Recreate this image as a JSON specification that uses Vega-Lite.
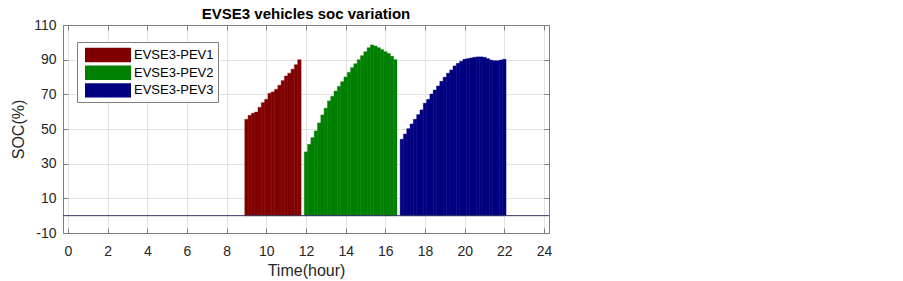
{
  "$schema": "https://vega.github.io/schema/vega-lite/v6.json",
  "width": 486,
  "height": 208,
  "autosize": {"type": "none"},
  "padding": {"left": 63, "top": 25, "right": 354, "bottom": 48},
  "background": "white",
  "title": {"text": "EVSE3 vehicles soc variation", "font": "Liberation Sans", "fontSize": 15, "fontWeight": "bold", "color": "#000000", "offset": 4, "dy": 8},
  "config": {
    "view": {"stroke": "#7f7f7f", "strokeWidth": 1},
    "font": "Liberation Sans",
    "axis": {
      "domainColor": "#7f7f7f",
      "tickColor": "#7f7f7f",
      "gridColor": "#e3e3e3",
      "labelFont": "Liberation Sans",
      "labelFontSize": 14,
      "labelColor": "#262626",
      "titleFont": "Liberation Sans",
      "titleFontSize": 16,
      "titleFontWeight": "normal",
      "titleColor": "#262626",
      "tickSize": -5
    }
  },
  "datasets": {
    "soc": [
      {"t": 9, "soc": 55.6, "vehicle": "EVSE3-PEV1"},
      {"t": 9.167, "soc": 57.9, "vehicle": "EVSE3-PEV1"},
      {"t": 9.333, "soc": 59.1, "vehicle": "EVSE3-PEV1"},
      {"t": 9.5, "soc": 59.8, "vehicle": "EVSE3-PEV1"},
      {"t": 9.667, "soc": 62.5, "vehicle": "EVSE3-PEV1"},
      {"t": 9.833, "soc": 65.2, "vehicle": "EVSE3-PEV1"},
      {"t": 10, "soc": 67.1, "vehicle": "EVSE3-PEV1"},
      {"t": 10.167, "soc": 70.6, "vehicle": "EVSE3-PEV1"},
      {"t": 10.333, "soc": 71.4, "vehicle": "EVSE3-PEV1"},
      {"t": 10.5, "soc": 72.9, "vehicle": "EVSE3-PEV1"},
      {"t": 10.667, "soc": 75.2, "vehicle": "EVSE3-PEV1"},
      {"t": 10.833, "soc": 77.9, "vehicle": "EVSE3-PEV1"},
      {"t": 11, "soc": 80.6, "vehicle": "EVSE3-PEV1"},
      {"t": 11.167, "soc": 82.2, "vehicle": "EVSE3-PEV1"},
      {"t": 11.333, "soc": 84.5, "vehicle": "EVSE3-PEV1"},
      {"t": 11.5, "soc": 87.1, "vehicle": "EVSE3-PEV1"},
      {"t": 11.667, "soc": 90, "vehicle": "EVSE3-PEV1"},
      {"t": 12, "soc": 36.8, "vehicle": "EVSE3-PEV2"},
      {"t": 12.167, "soc": 41.2, "vehicle": "EVSE3-PEV2"},
      {"t": 12.333, "soc": 45, "vehicle": "EVSE3-PEV2"},
      {"t": 12.5, "soc": 48.9, "vehicle": "EVSE3-PEV2"},
      {"t": 12.667, "soc": 53.5, "vehicle": "EVSE3-PEV2"},
      {"t": 12.833, "soc": 58.1, "vehicle": "EVSE3-PEV2"},
      {"t": 13, "soc": 62, "vehicle": "EVSE3-PEV2"},
      {"t": 13.167, "soc": 66.2, "vehicle": "EVSE3-PEV2"},
      {"t": 13.333, "soc": 68.9, "vehicle": "EVSE3-PEV2"},
      {"t": 13.5, "soc": 71.9, "vehicle": "EVSE3-PEV2"},
      {"t": 13.667, "soc": 74.6, "vehicle": "EVSE3-PEV2"},
      {"t": 13.833, "soc": 77.3, "vehicle": "EVSE3-PEV2"},
      {"t": 14, "soc": 80, "vehicle": "EVSE3-PEV2"},
      {"t": 14.167, "soc": 82.7, "vehicle": "EVSE3-PEV2"},
      {"t": 14.333, "soc": 85.4, "vehicle": "EVSE3-PEV2"},
      {"t": 14.5, "soc": 87.7, "vehicle": "EVSE3-PEV2"},
      {"t": 14.667, "soc": 90, "vehicle": "EVSE3-PEV2"},
      {"t": 14.833, "soc": 92.3, "vehicle": "EVSE3-PEV2"},
      {"t": 15, "soc": 94.6, "vehicle": "EVSE3-PEV2"},
      {"t": 15.167, "soc": 96.9, "vehicle": "EVSE3-PEV2"},
      {"t": 15.333, "soc": 98.5, "vehicle": "EVSE3-PEV2"},
      {"t": 15.5, "soc": 97.9, "vehicle": "EVSE3-PEV2"},
      {"t": 15.667, "soc": 96.9, "vehicle": "EVSE3-PEV2"},
      {"t": 15.833, "soc": 95.8, "vehicle": "EVSE3-PEV2"},
      {"t": 16, "soc": 94.6, "vehicle": "EVSE3-PEV2"},
      {"t": 16.167, "soc": 93.5, "vehicle": "EVSE3-PEV2"},
      {"t": 16.333, "soc": 92, "vehicle": "EVSE3-PEV2"},
      {"t": 16.5, "soc": 90, "vehicle": "EVSE3-PEV2"},
      {"t": 16.833, "soc": 44.1, "vehicle": "EVSE3-PEV3"},
      {"t": 17, "soc": 47.1, "vehicle": "EVSE3-PEV3"},
      {"t": 17.167, "soc": 50.2, "vehicle": "EVSE3-PEV3"},
      {"t": 17.333, "soc": 52.9, "vehicle": "EVSE3-PEV3"},
      {"t": 17.5, "soc": 55.6, "vehicle": "EVSE3-PEV3"},
      {"t": 17.667, "soc": 58.3, "vehicle": "EVSE3-PEV3"},
      {"t": 17.833, "soc": 61, "vehicle": "EVSE3-PEV3"},
      {"t": 18, "soc": 64.9, "vehicle": "EVSE3-PEV3"},
      {"t": 18.167, "soc": 67.1, "vehicle": "EVSE3-PEV3"},
      {"t": 18.333, "soc": 70.2, "vehicle": "EVSE3-PEV3"},
      {"t": 18.5, "soc": 72.5, "vehicle": "EVSE3-PEV3"},
      {"t": 18.667, "soc": 74.8, "vehicle": "EVSE3-PEV3"},
      {"t": 18.833, "soc": 77.5, "vehicle": "EVSE3-PEV3"},
      {"t": 19, "soc": 79.9, "vehicle": "EVSE3-PEV3"},
      {"t": 19.167, "soc": 82.2, "vehicle": "EVSE3-PEV3"},
      {"t": 19.333, "soc": 84.1, "vehicle": "EVSE3-PEV3"},
      {"t": 19.5, "soc": 86.4, "vehicle": "EVSE3-PEV3"},
      {"t": 19.667, "soc": 87.9, "vehicle": "EVSE3-PEV3"},
      {"t": 19.833, "soc": 89.1, "vehicle": "EVSE3-PEV3"},
      {"t": 20, "soc": 90.2, "vehicle": "EVSE3-PEV3"},
      {"t": 20.167, "soc": 90.6, "vehicle": "EVSE3-PEV3"},
      {"t": 20.333, "soc": 91, "vehicle": "EVSE3-PEV3"},
      {"t": 20.5, "soc": 91.4, "vehicle": "EVSE3-PEV3"},
      {"t": 20.667, "soc": 91.6, "vehicle": "EVSE3-PEV3"},
      {"t": 20.833, "soc": 91.6, "vehicle": "EVSE3-PEV3"},
      {"t": 21, "soc": 91.4, "vehicle": "EVSE3-PEV3"},
      {"t": 21.167, "soc": 90.6, "vehicle": "EVSE3-PEV3"},
      {"t": 21.333, "soc": 89.8, "vehicle": "EVSE3-PEV3"},
      {"t": 21.5, "soc": 89.4, "vehicle": "EVSE3-PEV3"},
      {"t": 21.667, "soc": 89.4, "vehicle": "EVSE3-PEV3"},
      {"t": 21.833, "soc": 89.8, "vehicle": "EVSE3-PEV3"},
      {"t": 22, "soc": 90.2, "vehicle": "EVSE3-PEV3"}
    ]
  },
  "layer": [
    {
      "data": {"name": "soc"},
      "mark": {"type": "bar", "width": 3.45, "strokeWidth": 0.4},
      "encoding": {
        "x": {"field": "t", "type": "quantitative", "scale": {"domain": [0, 24], "nice": false, "zero": false},
              "axis": {"title": "Time(hour)", "values": [0,2,4,6,8,10,12,14,16,18,20,22,24], "grid": true, "labelPadding": 16, "titlePadding": 4}},
        "y": {"field": "soc", "type": "quantitative", "scale": {"domain": [-10, 110], "nice": false},
              "axis": {"title": "SOC(%)", "values": [-10,10,30,50,70,90,110], "grid": true, "labelPadding": 12, "titlePadding": 7,
                       "labelExpr": "replace(datum.label, '\u2212', '-')"}},
        "color": {"field": "vehicle", "type": "nominal",
                  "scale": {"domain": ["EVSE3-PEV1","EVSE3-PEV2","EVSE3-PEV3"], "range": ["#800000","#008000","#000080"]},
                  "legend": {"title": null, "orient": "none", "legendX": 14, "legendY": 17,
                             "symbolType": "M-2.556,-0.8H2.556V0.8H-2.556Z", "symbolSize": 324, "symbolStrokeWidth": 0,
                             "symbolOpacity": 1, "symbolOffset": 18,
                             "labelFont": "Liberation Sans", "labelFontSize": 13, "labelColor": "#000000",
                             "rowPadding": 0.7, "padding": 4, "labelOffset": 17,
                             "strokeColor": "#7f7f7f", "fillColor": "#ffffff"}},
        "stroke": {"field": "vehicle", "type": "nominal",
                  "scale": {"domain": ["EVSE3-PEV1","EVSE3-PEV2","EVSE3-PEV3"], "range": ["#800000","#008000","#000080"]},
                  "legend": null}
      }
    },
    {
      "data": {"values": [{"z": 0}]},
      "mark": {"type": "rule", "color": "#303060", "strokeWidth": 1},
      "encoding": {"y": {"field": "z", "type": "quantitative", "scale": {"domain": [-10, 110], "nice": false}, "axis": null}}
    },
    {
      "data": {"name": "soc"},
      "mark": {"type": "point", "opacity": 0},
      "encoding": {
        "x": {"field": "t", "type": "quantitative", "scale": {"domain": [0, 24], "nice": false, "zero": false},
              "axis": {"orient": "top", "values": [0,2,4,6,8,10,12,14,16,18,20,22,24], "labels": false, "title": null, "grid": false}},
        "y": {"field": "soc", "type": "quantitative", "scale": {"domain": [-10, 110], "nice": false},
              "axis": {"orient": "right", "values": [-10,10,30,50,70,90,110], "labels": false, "title": null, "grid": false}}
      }
    }
  ],
  "resolve": {"axis": {"x": "independent", "y": "independent"}}
}
